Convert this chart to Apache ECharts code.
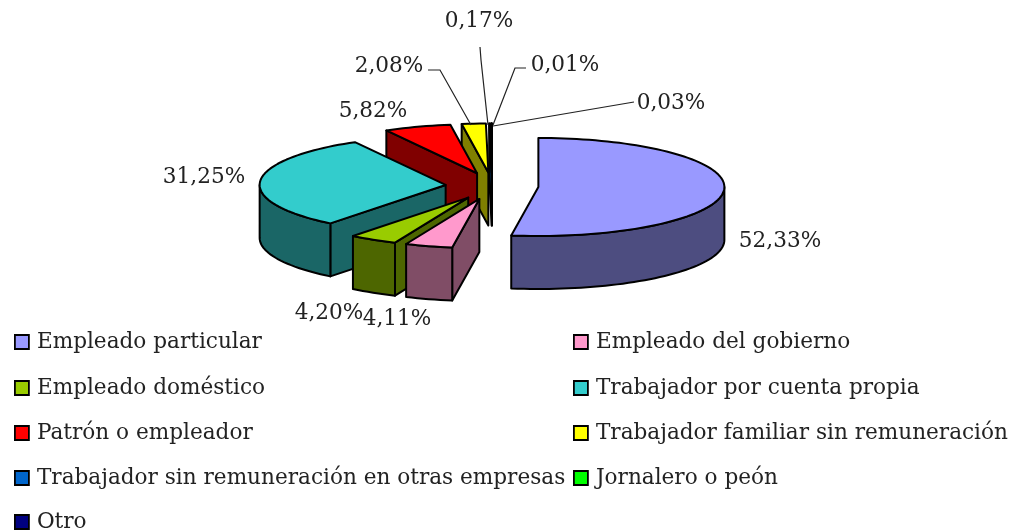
<!DOCTYPE html>
<html><head><meta charset="utf-8">
<style>html,body{margin:0;padding:0;background:#fff}#c{width:1013px;height:531px}</style>
<script src="https://cdn.jsdelivr.net/npm/echarts@6/dist/echarts.min.js"></script>
</head><body><div id="c"></div>
<script>
const categories = ['Empleado particular','Empleado del gobierno','Empleado doméstico','Trabajador por cuenta propia','Patrón o empleador','Trabajador familiar sin remuneración','Trabajador sin remuneración en otras empresas','Jornalero o peón','Otro'];
const values = [52.33,4.11,4.20,31.25,5.82,2.08,0.17,0.03,0.01];
const valueLabels = ['52,33%','4,11%','4,20%','31,25%','5,82%','2,08%','0,17%','0,03%','0,01%'];
const topColors = ['#9999FF','#FF99CC','#99CC00','#33CCCC','#FF0000','#FFFF00','#0066CC','#00FF00','#000080'];
const sideColors = ['#4D4D80','#804D66','#4D6600','#1A6666','#800000','#808000','#003366','#008000','#000040'];

// layout
const FONT = '"DejaVu Serif"';
const FS = 21.6;
const C = {x:492, y:186, rx:186, ry:49, depth:53, explode:46.5, explodeYRatio:0.29};
const labelPos = [[780,241],[397,319],[329,313],[204,177],[373,111],[389,66],[479,21],[671,103],[565,65]];
const leaders = [null,null,null,null,null,
  [[428,70],[440,70],[471,125]],
  [[480,47],[481,60],[488,125]],
  [[634,102],[493,126]],
  [[526,68],[515,68],[493,125]]];
const legendPos = [[14,331],[573,331],[14,377],[573,377],[14,422],[573,422],[14,467],[573,467],[14,511]];

const total = values.reduce((a,b)=>a+b,0);
const D = Math.PI/180;
let acc = 0;
const slices = values.map(v=>{const a=acc/total*360; acc+=v; return {a, b:acc/total*360};});

function buildSlice(i){
  const s = slices[i], mid=(s.a+s.b)/2*D;
  const ax = C.x + C.explode*Math.sin(mid), ay = C.y - C.explode*C.explodeYRatio*Math.cos(mid);
  const pt = deg => [ax + C.rx*Math.sin(deg*D), ay - C.ry*Math.cos(deg*D)];
  const line = {stroke:'#000', lineWidth:2, lineJoin:'round'};
  const arc = (a,b)=>{const n=Math.max(2,Math.ceil((b-a)/2)),p=[];for(let k=0;k<=n;k++)p.push(pt(a+(b-a)*k/n));return p;};
  const kids = [];
  if (Math.sin(s.a*D) < 0) {
    const p = pt(s.a);
    kids.push({type:'polygon',shape:{points:[[ax,ay],p,[p[0],p[1]+C.depth],[ax,ay+C.depth]]},style:{fill:sideColors[i],...line}});
  }
  const fa=Math.max(s.a,90), fb=Math.min(s.b,270);
  if (fb>fa) {
    const top=arc(fa,fb), bot=top.map(p=>[p[0],p[1]+C.depth]).reverse();
    kids.push({type:'polygon',shape:{points:top.concat(bot)},style:{fill:sideColors[i],...line}});
  }
  kids.push({type:'polygon',shape:{points:[[ax,ay]].concat(arc(s.a,s.b))},style:{fill:topColors[i],...line}});
  if (leaders[i]) kids.push({type:'polyline',shape:{points:leaders[i]},style:{fill:null,stroke:'#222',lineWidth:1.2}});
  kids.push({type:'text',x:labelPos[i][0],y:labelPos[i][1],style:{text:valueLabels[i],fill:'#222',font:FS+'px '+FONT,align:'center',verticalAlign:'middle'}});
  return {type:'group',children:kids};
}

const order = values.map((_,i)=>values.length-1-i);
const option = {
  animation:false,
  backgroundColor:'#fff',
  legend: categories.map((name,i)=>({
    left:legendPos[i][0], top:legendPos[i][1], padding:0, itemWidth:14, itemHeight:14, selectedMode:false,
    data:[{name, icon:'rect', itemStyle:{color:topColors[i],borderColor:'#000',borderWidth:1.8}}],
    textStyle:{fontFamily:FONT,fontSize:FS,color:'#222',padding:[0,0,5,3]}
  })),
  series: order.map(i=>({
    type:'custom', name:categories[i], coordinateSystem:'none', silent:true,
    itemStyle:{color:topColors[i]},
    data:[[values[i]]],
    renderItem:()=>buildSlice(i)
  }))
};
echarts.init(document.getElementById('c')).setOption(option);
</script></body></html>
